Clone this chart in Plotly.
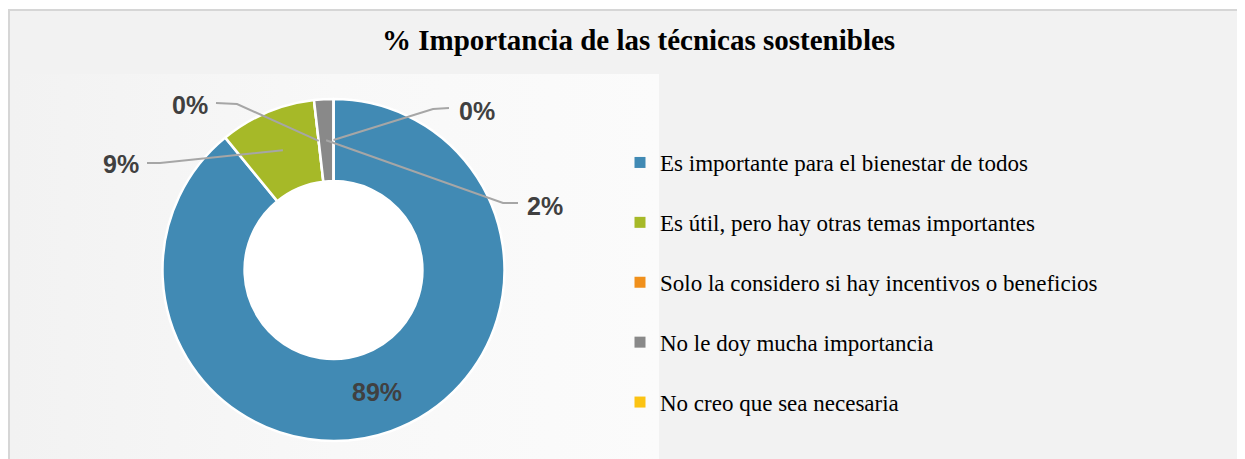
import math
import plotly.graph_objects as go

# ---------------- data ----------------
categories = [
    "Es importante para el bienestar de todos",
    "Es útil, pero hay otras temas importantes",
    "Solo la considero si hay incentivos o beneficios",
    "No le doy mucha importancia",
    "No creo que sea necesaria",
]
responses = [49, 5, 0, 1, 0]
colors = ["#418ab4", "#a6b928", "#f0901c", "#898989", "#fbc313"]
title_text = "% Importancia de las técnicas sostenibles"

# ---------------- layout / style ----------------
SW, SH = 1245, 459          # window size
OFF = 8                     # default page body margin
W, H = SW - OFF, SH - OFF   # figure size
CX, CY, R = 333.5, 270.0, 171.0      # donut centre and outer radius (window px)
HOLE = 0.52
LABEL_FONT = dict(family="Liberation Sans, Arial", size=25, color="#404040")
LEADER_COLOR = "#a6a6a6"
# label placement for the outside labels: (text centre, elbow, end of leader)
label_layout = {
    1: dict(text=(121, 164), elbow=(160, 163), end=(147, 163)),
    2: dict(text=(190, 105), elbow=(237, 104), end=(216, 103)),
    3: dict(text=(545, 206), elbow=(503, 203), end=(518, 203)),
    4: dict(text=(477, 111), elbow=(433, 109), end=(449, 108)),
}
inside_label = {0}


def px_x(x):
    return (x - OFF) / W


def px_y(y):
    return 1 - (y - OFF) / H


total = sum(responses)
pct = [v / total * 100 for v in responses]

fig = go.Figure()

# soft background gradient behind the donut
gx0, gx1, gy0, gy1 = 12, 659, 74, SH + 5
fig.add_trace(go.Scatter(
    x=[gx0, gx1, gx1, gx0, gx0], y=[gy0, gy0, gy1, gy1, gy0],
    mode="lines", fill="toself", line=dict(width=0),
    fillgradient=dict(type="horizontal",
                      colorscale=[[0, "#f2f2f2"], [0.5, "#f8f8f8"], [1, "#fbfbfb"]]),
    hoverinfo="skip", showlegend=False,
))

fig.add_trace(go.Pie(
    values=responses,
    labels=categories,
    sort=False,
    direction="clockwise",
    rotation=0,
    hole=HOLE,
    marker=dict(colors=colors, line=dict(color="white", width=2.5)),
    textinfo="none",
    hoverinfo="label+percent",
    showlegend=False,
    domain=dict(x=[px_x(CX - R), px_x(CX + R)],
                y=[px_y(CY + R), px_y(CY - R)]),
))

# legend entries (one group each so the gap can be set)
for i, (cat, col) in enumerate(zip(categories, colors)):
    fig.add_trace(go.Scatter(
        x=[None], y=[None], mode="markers", name=cat,
        marker=dict(symbol="square", size=11, color=col),
        legendgroup=f"g{i}", showlegend=True, hoverinfo="skip",
    ))

shapes = [
    # chart area
    dict(type="rect", xref="x", yref="y", x0=9, y0=10, x1=SW + 5, y1=SH + 5,
         fillcolor="#f2f2f2", line=dict(color="#d6d6d6", width=2), layer="below"),
    # legend box
    dict(type="rect", xref="x", yref="y", x0=659, y0=128, x1=1107, y1=447,
         fillcolor="#f2f2f2", line=dict(width=0), layer="below"),
    # white donut hole
    dict(type="circle", xref="x", yref="y",
         x0=CX - R * HOLE + 1, y0=CY - R * HOLE + 1, x1=CX + R * HOLE - 1, y1=CY + R * HOLE - 1,
         fillcolor="white", line=dict(width=0), layer="above"),
]

annotations = [dict(
    text=f"<b>{title_text}</b>", xref="x", yref="y", x=638, y=40,
    showarrow=False, font=dict(family="Liberation Serif, Times New Roman", size=29, color="#000000"),
)]

# labels and leader lines, placed from the data angles
cum = 0.0
r_mid = R * (1 + HOLE) / 2
for i, v in enumerate(pct):
    mid = (cum + v / 2) / 100 * 2 * math.pi     # clockwise from 12 o'clock
    cum += v
    sx = CX + r_mid * math.sin(mid)
    sy = CY - r_mid * math.cos(mid)
    txt = f"<b>{round(v):d}%</b>"
    if i in inside_label:
        annotations.append(dict(text=txt, xref="x", yref="y", x=sx, y=sy,
                                showarrow=False, font=LABEL_FONT))
        continue
    lay = label_layout[i]
    (ex, ey), (fx, fy) = lay["elbow"], lay["end"]
    shapes.append(dict(type="path", xref="x", yref="y",
                       path=f"M{sx:.1f},{sy:.1f} L{ex},{ey} L{fx},{fy}",
                       line=dict(color=LEADER_COLOR, width=2), layer="above"))
    tx, ty = lay["text"]
    annotations.append(dict(text=txt, xref="x", yref="y", x=tx, y=ty,
                            showarrow=False, font=LABEL_FONT))

fig.update_layout(
    width=W, height=H,
    margin=dict(l=0, r=0, t=0, b=0),
    paper_bgcolor="white",
    plot_bgcolor="rgba(0,0,0,0)",
    xaxis=dict(range=[OFF, SW], visible=False, fixedrange=True, domain=[0, 1]),
    yaxis=dict(range=[SH, OFF], visible=False, fixedrange=True, domain=[0, 1]),
    shapes=shapes,
    annotations=annotations,
    showlegend=True,
    legend=dict(
        x=px_x(620), y=px_y(141), xanchor="left", yanchor="top",
        bgcolor="rgba(0,0,0,0)", borderwidth=0,
        font=dict(family="Liberation Serif, Times New Roman", size=23, color="#000000"),
        tracegroupgap=27, itemclick=False, itemdoubleclick=False,
    ),
)

fig.write_html("out.html")
